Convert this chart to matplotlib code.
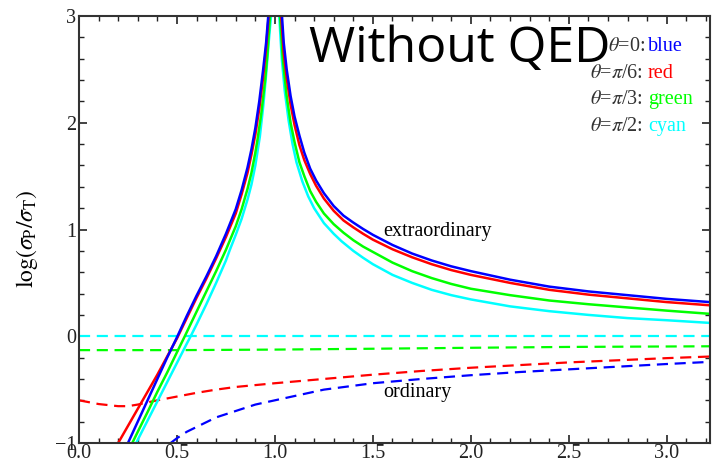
import matplotlib
matplotlib.use('Agg')
import matplotlib.pyplot as plt
from matplotlib.ticker import MultipleLocator

plt.rcParams['font.family'] = ['Liberation Serif', 'DejaVu Serif']
plt.rcParams['mathtext.fontset'] = 'stix'

# extraordinary mode (solid), branch below the resonance at 1.0
x_left_blue = [0.25, 0.30, 0.35, 0.40, 0.45, 0.50, 0.55, 0.60, 0.65, 0.70, 0.75, 0.80, 0.83, 0.86, 0.88, 0.90, 0.92, 0.94, 0.955, 0.966]
y_left_blue = [-1.0, -0.80, -0.60, -0.40, -0.20, -0.01, 0.19, 0.38, 0.56, 0.75, 0.96, 1.19, 1.37, 1.58, 1.75, 1.95, 2.20, 2.50, 2.75, 3.0]
x_left_red = [0.20, 0.25, 0.30, 0.35, 0.40, 0.45, 0.50, 0.55, 0.60, 0.65, 0.70, 0.75, 0.80, 0.83, 0.86, 0.88, 0.90, 0.92, 0.94, 0.955, 0.968]
y_left_red = [-1.0, -0.84, -0.68, -0.52, -0.36, -0.19, -0.02, 0.17, 0.36, 0.54, 0.73, 0.93, 1.15, 1.33, 1.53, 1.70, 1.89, 2.13, 2.43, 2.70, 3.0]
x_left_green = [0.272, 0.30, 0.35, 0.40, 0.45, 0.50, 0.54, 0.60, 0.65, 0.70, 0.75, 0.80, 0.83, 0.86, 0.88, 0.90, 0.91, 0.93, 0.95, 0.962, 0.975]
y_left_green = [-1.0, -0.895, -0.71, -0.52, -0.34, -0.15, 0.0, 0.23, 0.42, 0.61, 0.81, 1.03, 1.19, 1.38, 1.53, 1.72, 1.83, 2.08, 2.40, 2.65, 3.0]
x_left_cyan = [0.292, 0.30, 0.35, 0.40, 0.45, 0.50, 0.55, 0.57, 0.60, 0.65, 0.70, 0.75, 0.77, 0.80, 0.83, 0.86, 0.88, 0.90, 0.923, 0.94, 0.955, 0.968, 0.98]
y_left_cyan = [-1.0, -0.97, -0.79, -0.61, -0.43, -0.25, -0.07, 0.0, 0.11, 0.30, 0.50, 0.71, 0.81, 0.95, 1.10, 1.28, 1.42, 1.60, 1.87, 2.15, 2.45, 2.75, 3.0]

# extraordinary mode (solid), branch above the resonance
x_right_blue = [1.036, 1.045, 1.06, 1.08, 1.10, 1.125, 1.15, 1.18, 1.21, 1.25, 1.30, 1.35, 1.40, 1.45, 1.50, 1.60, 1.70, 1.80, 1.90, 2.00, 2.20, 2.40, 2.60, 2.80, 3.00, 3.22]
y_right_blue = [3.0, 2.75, 2.50, 2.25, 2.06, 1.88, 1.72, 1.57, 1.46, 1.34, 1.22, 1.13, 1.065, 1.005, 0.95, 0.855, 0.775, 0.71, 0.655, 0.61, 0.53, 0.465, 0.42, 0.385, 0.35, 0.32]
x_right_red = [1.032, 1.045, 1.06, 1.08, 1.10, 1.125, 1.15, 1.18, 1.21, 1.25, 1.30, 1.35, 1.40, 1.45, 1.50, 1.60, 1.70, 1.80, 1.90, 2.00, 2.20, 2.40, 2.60, 2.80, 3.00, 3.22]
y_right_red = [3.0, 2.65, 2.42, 2.17, 1.98, 1.79, 1.65, 1.52, 1.41, 1.29, 1.175, 1.085, 1.02, 0.96, 0.905, 0.815, 0.74, 0.675, 0.62, 0.575, 0.50, 0.435, 0.39, 0.355, 0.32, 0.29]
x_right_green = [1.026, 1.04, 1.06, 1.08, 1.10, 1.125, 1.15, 1.18, 1.21, 1.25, 1.30, 1.35, 1.40, 1.45, 1.50, 1.60, 1.70, 1.80, 1.90, 2.00, 2.20, 2.40, 2.60, 2.80, 3.00, 3.22]
y_right_green = [3.0, 2.60, 2.25, 2.00, 1.82, 1.63, 1.50, 1.36, 1.26, 1.15, 1.05, 0.97, 0.90, 0.84, 0.79, 0.69, 0.61, 0.545, 0.49, 0.445, 0.385, 0.335, 0.30, 0.27, 0.24, 0.21]
x_right_cyan = [1.022, 1.035, 1.05, 1.07, 1.09, 1.11, 1.14, 1.17, 1.20, 1.25, 1.30, 1.34, 1.40, 1.45, 1.50, 1.60, 1.70, 1.80, 1.90, 2.00, 2.20, 2.40, 2.60, 2.80, 3.00, 3.22]
y_right_cyan = [3.0, 2.60, 2.30, 2.02, 1.80, 1.63, 1.45, 1.31, 1.20, 1.06, 0.96, 0.89, 0.80, 0.735, 0.675, 0.575, 0.50, 0.435, 0.385, 0.345, 0.28, 0.235, 0.20, 0.17, 0.15, 0.125]

# ordinary mode (dashed)
x_ord_blue = [0.468, 0.50, 0.55, 0.60, 0.70, 0.80, 0.90, 1.00, 1.25, 1.50, 1.75, 2.00, 2.25, 2.50, 2.75, 3.00, 3.22]
y_ord_blue = [-1.0, -0.955, -0.895, -0.85, -0.76, -0.70, -0.64, -0.60, -0.50, -0.44, -0.40, -0.365, -0.335, -0.31, -0.285, -0.26, -0.24]
x_ord_red = [0.0, 0.10, 0.20, 0.25, 0.30, 0.40, 0.50, 0.60, 0.70, 0.80, 1.00, 1.25, 1.50, 1.75, 2.00, 2.25, 2.50, 2.75, 3.00, 3.22]
y_ord_red = [-0.60, -0.635, -0.655, -0.655, -0.64, -0.60, -0.565, -0.53, -0.50, -0.475, -0.44, -0.40, -0.36, -0.325, -0.295, -0.27, -0.245, -0.225, -0.205, -0.19]
x_ord_green = [0.0, 0.5, 1.0, 1.5, 2.0, 2.5, 3.22]
y_ord_green = [-0.13, -0.13, -0.125, -0.117, -0.108, -0.10, -0.094]
x_ord_cyan = [0.0, 3.22]
y_ord_cyan = [0.0, 0.0]

colors = ['blue', 'red', '#00ff00', 'cyan']
angle_labels = [r'$\theta$=0:', r'$\theta$=$\pi$/6: ', r'$\theta$=$\pi$/3: ', r'$\theta$=$\pi$/2: ']
color_names = ['blue', 'red', 'green', 'cyan']

fig = plt.figure(figsize=(7.2, 4.63), dpi=100)
ax = fig.add_axes([0.1097, 0.0432, 0.8763, 0.9222])

solids = [
    (x_left_blue, y_left_blue, x_right_blue, y_right_blue),
    (x_left_red, y_left_red, x_right_red, y_right_red),
    (x_left_green, y_left_green, x_right_green, y_right_green),
    (x_left_cyan, y_left_cyan, x_right_cyan, y_right_cyan),
]
dashed = [
    (x_ord_blue, y_ord_blue),
    (x_ord_red, y_ord_red),
    (x_ord_green, y_ord_green),
    (x_ord_cyan, y_ord_cyan),
]

for c, (xd, yd) in zip(colors, dashed):
    ax.plot(xd, yd, color=c, lw=1.6, ls=(0, (5, 3)))
for c, (xl, yl, xr, yr) in reversed(list(zip(colors, solids))):
    ax.plot(xl, yl, color=c, lw=1.8, solid_joinstyle='round')
    ax.plot(xr, yr, color=c, lw=1.8, solid_joinstyle='round')

ax.set_xlim(0, 3.22)
ax.set_ylim(-1, 3)
ax.xaxis.set_minor_locator(MultipleLocator(0.1))
ax.yaxis.set_minor_locator(MultipleLocator(0.2))
ax.set_xticks([0, 0.5, 1.0, 1.5, 2.0, 2.5, 3.0])
ax.set_xticklabels(['0.0', '0.5', '1.0', '1.5', '2.0', '2.5', '3.0'])
ax.set_yticks([-1, 0, 1, 2, 3])
ax.set_yticklabels(['\u22121', '0', '1', '2', '3'])
ax.tick_params(which='both', direction='in', top=True, right=True, labelsize=14.5, colors='#222222')
ax.tick_params(which='major', length=6, width=1.2, pad=2)
ax.tick_params(axis='x', which='major', pad=1)
ax.tick_params(which='minor', length=3.5, width=1.0)
for s in ax.spines.values():
    s.set_linewidth(1.5)
    s.set_color('#333333')

ax.set_ylabel(r'$\log(\sigma_{\rm P}/\sigma_{\rm T})$', fontsize=17)
ax.yaxis.set_label_coords(-0.062, 0.478)

ax.text(1.551, 0.98, 'extraordinary', fontsize=14.5, ha='left', va='center')
ax.text(1.551, -0.523, 'ordinary', fontsize=14.5, ha='left', va='center')

for i, (lab, cname, c) in enumerate(zip(angle_labels, color_names, colors)):
    ytxt = 2.713 - 0.249 * i
    ax.text(2.888, ytxt, lab, fontsize=14.5, ha='right', va='center', color='#333333')
    ax.text(2.903, ytxt, cname, fontsize=14.5, ha='left', va='center', color=c)

ax.text(1.175, 2.57, 'Without QED', fontsize=36, ha='left', va='baseline',
        family=['Open Sans', 'DejaVu Sans'], color='black')

fig.savefig('out.png', dpi=100)
